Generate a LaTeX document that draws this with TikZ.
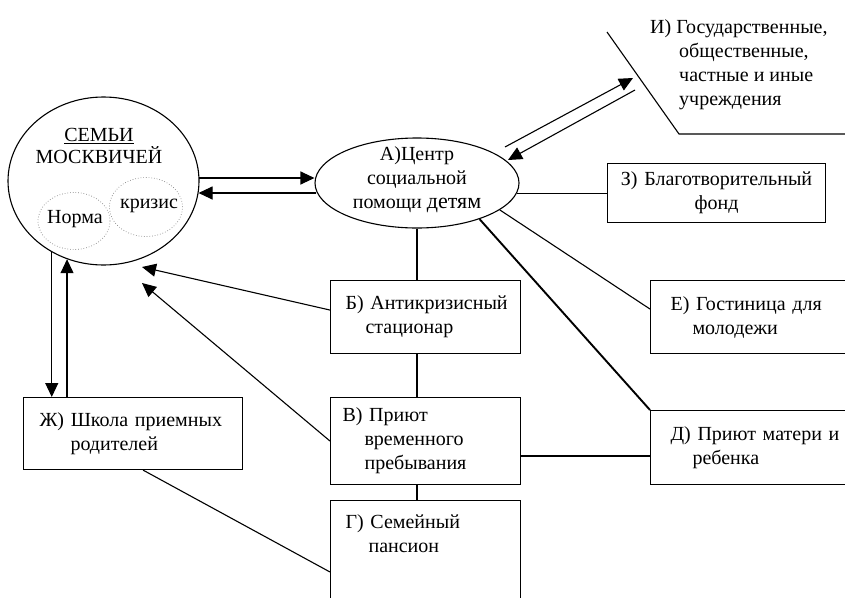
\documentclass[tikz,border=0pt]{standalone}
\usepackage{fontspec}
\setmainfont{Liberation Serif}
\usetikzlibrary{shapes,arrows.meta,calc}

\tikzset{
  box/.style={draw, rectangle, anchor=north west, inner xsep=12pt, inner ysep=0pt, align=left, line width=1.1pt},
  oval/.style={draw, ellipse, inner sep=0pt, line width=1.1pt},
  part/.style={draw=gray, dotted, ellipse, inner sep=0pt, line width=0.7pt},
  link/.style={line width=1.1pt},
  boldlink/.style={line width=1.9pt},
  arr/.style={line width=1.1pt, -{Triangle[length=14pt,width=13pt]}},
}

\begin{document}
\begin{tikzpicture}[x=1pt, y=-1pt, font=\fontsize{20}{24}\selectfont]
\useasboundingbox (0,0) rectangle (845,597);

% families
\node[oval, minimum width=191pt, minimum height=168pt] (fam) at (103.5,181) {};
\node[align=center] (famtxt) at (99,146) {\underline{СЕМЬИ}\\[-2pt]МОСКВИЧЕЙ};
\node[part, minimum width=72pt, minimum height=57pt] (nrm) at (74,221) {};
\node (nrmtxt) at (75,219) {Норма};
\node[part, minimum width=73pt, minimum height=59pt] (krz) at (146,207) {};
\node (krztxt) at (149,206) {кризис};

% centre
\node[oval, minimum width=204pt, minimum height=90pt] (ctr) at (417,183) {};
\node[align=center] (ctrtxt) at (417,180) {А)Центр\\социальной\\помощи {\fontsize{22}{24}\selectfont детям}};

% boxes
\node[box, inner xsep=5pt, text width=208pt, minimum height=59pt, align=center] (fnd) at (607,163) {З) Благотворительный\\фонд};
\node[box, text width=166pt, minimum height=73pt] (bst) at (330,280) {\hspace*{3pt}Б) Антикризисный\\\hspace*{23pt}стационар};
\node[box, text width=166pt, minimum height=87pt] (bwr) at (330,397) {В) Приют\\\hspace*{22pt}временного\\\hspace*{22pt}пребывания};
\node[box, text width=166pt, inner ysep=14pt] (sem) at (330,500) {\hspace*{3pt}Г) Семейный\\\hspace*{26pt}пансион\\\rule{0pt}{60pt}};
\node[box, text width=195pt, minimum height=72pt] (shk) at (23,397) {\hspace*{4pt}Ж) Школа приемных\\\hspace*{35pt}родителей};
\node[box, inner xsep=20pt, text width=190pt, minimum height=73pt] (hst) at (650,280) {Е) Гостиница для\\\hspace*{22pt}молодежи};
\node[box, inner xsep=20pt, text width=190pt, minimum height=74pt] (prm) at (650,410) {Д) Приют матери и\\\hspace*{22pt}ребенка};

% institutions
\coordinate (gos1) at (607,32);
\coordinate (gos2) at (679,134);
\coordinate (gos3) at (850,134);
\draw[link] (gos1) -- (gos2) -- (gos3);
\node[anchor=north west, align=left, inner sep=0pt] (gos) at (650,19) {И) Государственные,\\\hspace*{29pt}общественные,\\\hspace*{29pt}частные и иные\\\hspace*{29pt}учреждения};

% arrows
\coordinate (ia) at (505,147);
\coordinate (ib) at (633,78);
\coordinate (ic) at (635,90);
\coordinate (id) at (508,160);
\draw[arr] (ia) -- (ib);
\draw[arr] (ic) -- (id);
\draw[arr] ($(fam.east)+(-1,-3)$) -- ($(ctr.west)+(0,-5)$);
\draw[arr] ($(ctr.west)+(2,10)$) -- ($(fam.east)+(-1,12)$);
\draw[arr] (fam.234) -- (fam.234 |- shk.north);
\draw[arr] (fam.245 |- shk.north) -- (fam.245);
\coordinate (tipb) at (142,267);
\coordinate (tipv) at (142,283);
\draw[arr] ($(bst.west)+(0,-7)$) -- (tipb);
\draw[arr] (bwr.west) -- (tipv);

% lines
\draw[link] (ctr.south) -- (ctr.south |- bst.north);
\draw[link] (ctr.south |- bst.south) -- (ctr.south |- bwr.north);
\draw[link] (ctr.south |- bwr.south) -- (ctr.south |- sem.north);
\draw[link] ($(shk.south)+(10,0)$) -- ($(sem.north west)+(0,72)$);
\draw[link] (ctr.354) -- (ctr.354 -| fnd.west);
\draw[link] (ctr.342) -- ($(hst.west)+(0,-8)$);
\draw[boldlink] (ctr.330) -- (prm.north west);
\coordinate (vd) at ($(bwr.east)+(0,15)$);
\draw[boldlink] (vd) -- (vd -| prm.west);
\end{tikzpicture}
\end{document}
